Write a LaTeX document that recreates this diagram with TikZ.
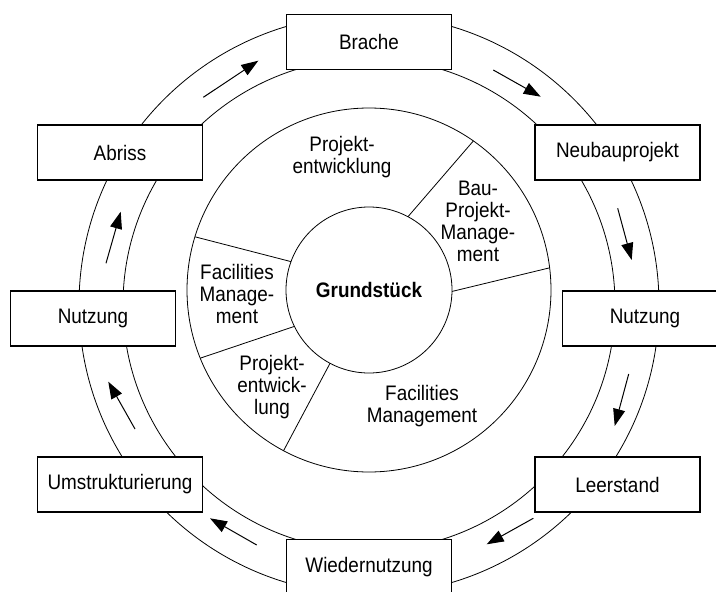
\documentclass[tikz,border=0pt]{standalone}
\usepackage{fontspec}
\setmainfont[FakeStretch=0.9]{Liberation Sans}
\usetikzlibrary{arrows.meta}

\begin{document}
\begin{tikzpicture}[x=1pt,y=1pt,line width=0.8pt,
  every node/.style={font=\fontsize{21}{22}\selectfont},
  stage/.style={draw=black,fill=white,line width=1.1pt,minimum width=165pt,minimum height=55pt,inner sep=0pt},
  sector/.style={align=center,inner sep=0pt},
  flow/.style={-{Triangle[length=17pt,width=12pt]},line width=1pt}]
            \useasboundingbox (0,0) rectangle (716,-592);

            % rings
            \coordinate (rc) at (369,-304.5);
            \draw (rc) circle (290);
            \draw (rc) circle (246);

            % core
            \node[shape=circle,draw=black,minimum size=364pt,outer sep=0pt] (m) at (369,-290) {};
            \node[shape=circle,draw=black,minimum size=166pt,inner sep=0pt,outer sep=0pt,font=\fontsize{21}{22}\selectfont\bfseries] (g) at (369,-290) {Grundstück};

            % sector borders
            \draw (g.62.8) -- (m.55.2);
            \draw (g.359.5) -- (m.7.9);
            \draw (g.242) -- (m.242);
            \draw (g.206.5) -- (m.202.3);
            \draw (g.160.7) -- (m.163.8);

            % sector labels
            \node[sector] (pe1) at (342,-157) {Projekt-\\entwicklung};
            \node[sector] (bpm) at (478,-221) {Bau-\\Projekt-\\Manage-\\ment};
            \node[sector] (fm1) at (237,-294) {Facilities\\Manage-\\ment};
            \node[sector] (pe2) at (272,-387) {Projekt-\\entwick-\\lung};
            \node[sector] (fm2) at (422,-406) {Facilities\\Management};

            % stages
            \node[stage] (brache) at (369,-42) {Brache};
            \node[stage] (neubau) at (617.5,-152.5) {Neubauprojekt};
            \node[stage] (nutzr) at (645,-318.5) {Nutzung};
            \node[stage] (leer) at (617.5,-484.5) {Leerstand};
            \node[stage] (wieder) at (369,-567) {Wiedernutzung};
            \node[stage] (umstr) at (120,-484.5) {Umstrukturierung};
            \node[stage] (nutzl) at (93,-318.5) {Nutzung};
            \node[stage] (abriss) at (120,-152.5) {Abriss};

            % arrow ends
            \coordinate (a1) at (203.3,-97.3);  \coordinate (b1) at (258.3,-60.7);
            \coordinate (a2) at (493.3,-70);    \coordinate (b2) at (540.7,-96.7);
            \coordinate (a3) at (617.7,-208.3); \coordinate (b3) at (631.7,-260);
            \coordinate (a4) at (628.7,-374);   \coordinate (b4) at (614.7,-426);
            \coordinate (a5) at (533.3,-518.3); \coordinate (b5) at (486.7,-544.3);
            \coordinate (a6) at (256.7,-545);   \coordinate (b6) at (210,-518.3);
            \coordinate (a7) at (135,-429);     \coordinate (b7) at (108.3,-381.7);
            \coordinate (a8) at (106,-263.3);   \coordinate (b8) at (120.7,-211.7);

            % arrows
            \path [flow](a1) edge (b1);
            \path [flow](a2) edge (b2);
            \path [flow](a3) edge (b3);
            \path [flow](a4) edge (b4);
            \path [flow](a5) edge (b5);
            \path [flow](a6) edge (b6);
            \path [flow](a7) edge (b7);
            \path [flow](a8) edge (b8);
        \end{tikzpicture}
\end{document}
